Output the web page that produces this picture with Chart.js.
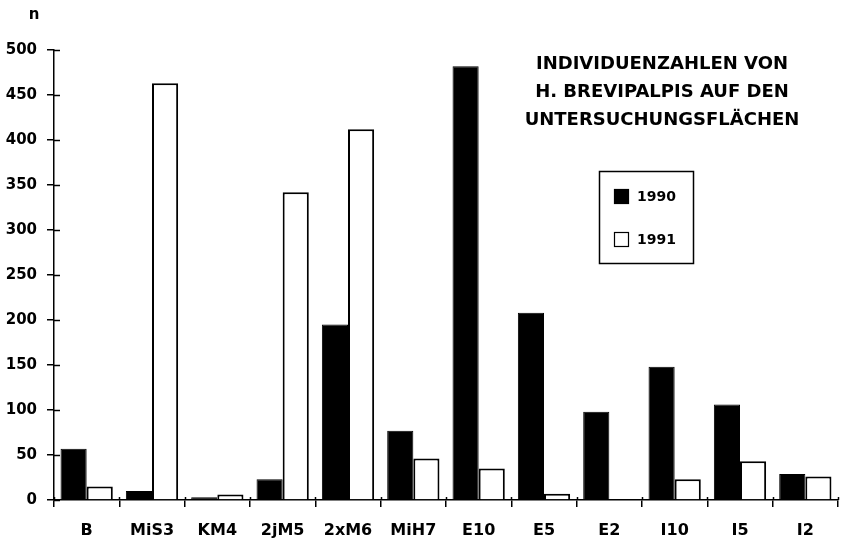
<!DOCTYPE html>
<html lang="de">
<head>
  <meta charset="UTF-8">
  <title>Individuenzahlen H. brevipalpis</title>
  <style>
    body {
      margin: 0;
      background: #fff;
    }
    #wrap {
      width: 843px;
      height: 545px;
    }
  </style>
  <script src="https://cdn.jsdelivr.net/npm/chart.js"></script>
</head>
<body>
  <div id="wrap">
    <canvas id="chart" width="843" height="545"></canvas>
  </div>

  <script>
    // Flächen (categories) and counts per year
    const flaechen = ['B', 'MiS3', 'KM4', '2jM5', '2xM6', 'MiH7', 'E10', 'E5', 'E2', 'I10', 'I5', 'I2'];
    const werte1990 = [57, 10, 3, 23, 195, 77, 482, 208, 98, 148, 106, 29];
    const werte1991 = [15, 463, 6, 342, 412, 46, 35, 7, 1, 23, 43, 26];
    const titelZeilen = ['INDIVIDUENZAHLEN VON', 'H. BREVIPALPIS AUF DEN', 'UNTERSUCHUNGSFLÄCHEN'];
    const yTicks = [0, 50, 100, 150, 200, 250, 300, 350, 400, 450, 500];

    const FONT = "'DejaVu Sans', Arial, sans-serif";

    // inward tick marks, title, legend and the "n" axis label
    const extras = {
      id: 'extras',
      afterDraw(chart) {
        const c = chart.ctx;
        const x = chart.scales.x;
        const y = chart.scales.y;
        const area = chart.chartArea;
        c.save();
        c.strokeStyle = '#000';
        c.lineWidth = 1.5;
        // inner part of the y ticks
        yTicks.forEach(v => {
          const py = Math.round(y.getPixelForValue(v)) + 0.5;
          c.beginPath();
          c.moveTo(area.left, py);
          c.lineTo(area.left + 6, py);
          c.stroke();
        });
        // inner part of the x ticks (between categories)
        for (let i = 0; i <= flaechen.length; i++) {
          const px = Math.round(x.getPixelForValue(i - 0.5)) + 0.5;
          c.beginPath();
          c.moveTo(px, area.bottom);
          c.lineTo(px, area.bottom - 3);
          c.stroke();
        }

        c.fillStyle = '#000';
        // "n" above y axis
        c.font = 'bold 15px ' + FONT;
        c.textAlign = 'center';
        c.textBaseline = 'middle';
        c.fillText('n', 34, 15);

        // title
        c.font = 'bold 18px ' + FONT;
        titelZeilen.forEach((t, i) => c.fillText(t, 662, 64 + i * 28));

        // legend box
        const lx = 599, ly = 171, lw = 94, lh = 92;
        c.lineWidth = 1.5;
        c.strokeRect(lx + 0.5, ly + 0.5, lw, lh);
        c.font = 'bold 14px ' + FONT;
        c.textAlign = 'left';
        chart.data.datasets.forEach((ds, i) => {
          const cy = 196 + i * 43;
          c.fillStyle = ds.backgroundColor;
          c.fillRect(614, cy - 7, 15, 15);
          c.strokeStyle = '#000';
          c.lineWidth = 1.2;
          c.strokeRect(614.5, cy - 6.5, 14, 14);
          c.fillStyle = '#000';
          c.fillText(ds.label, 637, cy + 1);
        });
        c.restore();
      }
    };

    const ctx = document.getElementById('chart').getContext('2d');
    new Chart(ctx, {
      type: 'bar',
      data: {
        labels: flaechen,
        datasets: [
          {
            label: '1990',
            data: werte1990,
            backgroundColor: '#000',
            borderColor: '#000',
            borderWidth: 1
          },
          {
            label: '1991',
            data: werte1991,
            backgroundColor: '#fff',
            borderColor: '#000',
            borderWidth: 2
          }
        ]
      },
      options: {
        responsive: false,
        animation: false,
        datasets: {
          bar: {
            categoryPercentage: 0.8,
            barPercentage: 1.0
          }
        },
        layout: {
          padding: { top: 50, right: 5, left: 0, bottom: 0 }
        },
        plugins: {
          legend: { display: false },
          tooltip: { enabled: false }
        },
        scales: {
          x: {
            afterFit: s => { s.height = 45; },
            border: { display: true, color: '#000', width: 1.5 },
            grid: {
              offset: true,
              drawOnChartArea: false,
              drawTicks: true,
              tickLength: 7,
              color: '#000',
              lineWidth: 1.5
            },
            ticks: {
              color: '#000',
              padding: 14,
              maxRotation: 0,
              autoSkip: false,
              font: { family: FONT, size: 16, weight: 'bold' }
            }
          },
          y: {
            min: 0,
            max: 500,
            afterFit: s => { s.width = 54; },
            afterBuildTicks: s => { s.ticks = yTicks.map(v => ({ value: v })); },
            border: { display: true, color: '#000', width: 1.5 },
            grid: {
              drawOnChartArea: false,
              drawTicks: true,
              tickLength: 7,
              color: '#000',
              lineWidth: 1.5
            },
            ticks: {
              color: '#000',
              padding: 10,
              font: { family: FONT, size: 15, weight: 'bold' }
            }
          }
        }
      },
      plugins: [extras]
    });
  </script>
</body>
</html>
